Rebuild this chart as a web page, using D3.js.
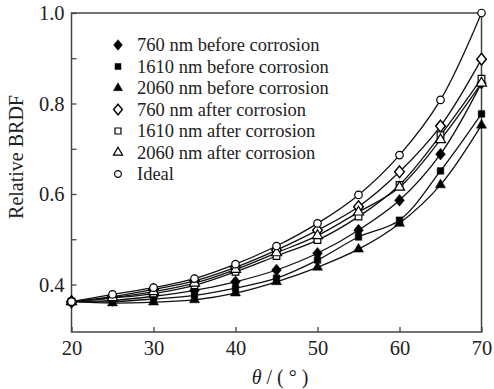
<!DOCTYPE html>
<meta charset="utf-8">
<style>
body { margin: 0; background: #fff; }
svg { display: block; }
text { font-family: 'Liberation Serif', 'Times New Roman', serif; fill: #222; }
.tick text { font-size: 20.5px; }
.legend text { font-size: 18.5px; }
.label { font-size: 20px; }
.frame { fill: none; stroke: #444; stroke-width: 1.5; }
.curve { fill: none; stroke: #111; stroke-width: 1.3; }
</style>
<body>
<svg width="494" height="389"></svg>
<script src="https://d3js.org/d3.v7.min.js"></script>
<script>
const angles = [20, 25, 30, 35, 40, 45, 50, 55, 60, 65, 70];

const before760  = [0.362, 0.365, 0.374, 0.387, 0.406, 0.432, 0.469, 0.520, 0.586, 0.688, 0.845];
const before1610 = [0.362, 0.362, 0.368, 0.376, 0.392, 0.414, 0.454, 0.505, 0.542, 0.651, 0.777];
const before2060 = [0.362, 0.359, 0.361, 0.366, 0.381, 0.406, 0.438, 0.478, 0.535, 0.620, 0.752];
const after760   = [0.362, 0.373, 0.389, 0.408, 0.438, 0.476, 0.520, 0.572, 0.649, 0.750, 0.898];
const after1610  = [0.362, 0.370, 0.380, 0.398, 0.428, 0.463, 0.498, 0.550, 0.620, 0.730, 0.855];
const after2060  = [0.362, 0.371, 0.384, 0.403, 0.433, 0.470, 0.508, 0.560, 0.615, 0.720, 0.845];
const ideal      = [0.362, 0.378, 0.393, 0.413, 0.445, 0.485, 0.535, 0.598, 0.686, 0.808, 1.000];

const seriesNames = ['760 nm before corrosion', '1610 nm before corrosion', '2060 nm before corrosion',
  '760 nm after corrosion', '1610 nm after corrosion', '2060 nm after corrosion', 'Ideal'];
const seriesValues = [before760, before1610, before2060, after760, after1610, after2060, ideal];
const seriesSymbols = [d3.symbolDiamond, d3.symbolSquare, d3.symbolTriangle,
  d3.symbolDiamond, d3.symbolSquare, d3.symbolTriangle, d3.symbolCircle];
const seriesFilled = [true, true, true, false, false, false, false];

const xTicks = [20, 30, 40, 50, 60, 70];
const yTicks = [0.4, 0.6, 0.8, 1.0];
const yMinor = [0.3, 0.5, 0.7, 0.9];

const svg = d3.select('svg');
const plotLeft = 71.5, plotRight = 481.5, plotTop = 13, plotBottom = 332;

const x = d3.scaleLinear().domain([20, 70]).range([plotLeft, plotRight]);
const y = d3.scaleLinear().domain([0.295, 1.0]).range([plotBottom, plotTop]);

// axes with inward ticks
svg.append('g')
  .attr('transform', `translate(0,${plotBottom})`)
  .call(d3.axisBottom(x).tickValues(xTicks).tickSize(-5).tickPadding(8).tickFormat(d3.format('d')));
svg.append('g')
  .attr('transform', `translate(${plotLeft},0)`)
  .call(d3.axisLeft(y).tickValues(yTicks).tickSize(-5).tickPadding(7).tickFormat(d3.format('.1f')));
svg.append('g')
  .attr('transform', `translate(${plotLeft},0)`)
  .call(d3.axisLeft(y).tickValues(yMinor.filter(v => y(v) < plotBottom - 3)).tickSize(-5).tickFormat(''));

svg.selectAll('.domain').remove();
svg.selectAll('.tick line').attr('stroke', '#444').attr('stroke-width', 1.3);
svg.selectAll('.tick text').attr('fill', '#222');

svg.append('rect').attr('class', 'frame')
  .attr('x', plotLeft).attr('y', plotTop)
  .attr('width', plotRight - plotLeft).attr('height', plotBottom - plotTop);

const line = d3.line()
  .x((d, i) => x(angles[i]))
  .y(d => y(d))
  .curve(d3.curveCatmullRom.alpha(0.5));

const sym = d3.symbol().size(44);

seriesValues.forEach(vals => {
  svg.append('path').attr('class', 'curve').attr('d', line(vals));
});

const shapeTransform = k => seriesSymbols[k] === d3.symbolDiamond ? ' scale(1.35,0.95)' : '';

seriesValues.forEach((vals, k) => {
  svg.append('g').selectAll('path')
    .data(vals)
    .join('path')
    .attr('transform', (d, i) => `translate(${x(angles[i])},${y(d)})` + shapeTransform(k))
    .attr('d', sym.type(seriesSymbols[k])())
    .attr('fill', seriesFilled[k] ? '#000' : '#fff')
    .attr('stroke', '#000')
    .attr('stroke-width', seriesFilled[k] ? 0.5 : 1.2);
});

// legend
const legend = svg.append('g').attr('class', 'legend');
seriesNames.forEach((name, k) => {
  const ly = 45 + k * 21.5;
  legend.append('path')
    .attr('transform', `translate(118,${ly})` + shapeTransform(k))
    .attr('d', d3.symbol().size(36).type(seriesSymbols[k])())
    .attr('fill', seriesFilled[k] ? '#000' : '#fff')
    .attr('stroke', '#000')
    .attr('stroke-width', seriesFilled[k] ? 0.5 : 1.2);
  legend.append('text')
    .attr('x', 137)
    .attr('y', ly + 6)
    .text(name);
});

svg.append('text')
  .attr('class', 'label')
  .attr('transform', 'rotate(-90)')
  .attr('x', -157)
  .attr('y', 23)
  .attr('text-anchor', 'middle')
  .text('Relative BRDF');

const xl = svg.append('text')
  .attr('class', 'label')
  .attr('x', 280)
  .attr('y', 384)
  .attr('text-anchor', 'middle');
xl.append('tspan').attr('font-style', 'italic').text('θ');
xl.append('tspan').text(' / ( ° )');
</script>
</body>
